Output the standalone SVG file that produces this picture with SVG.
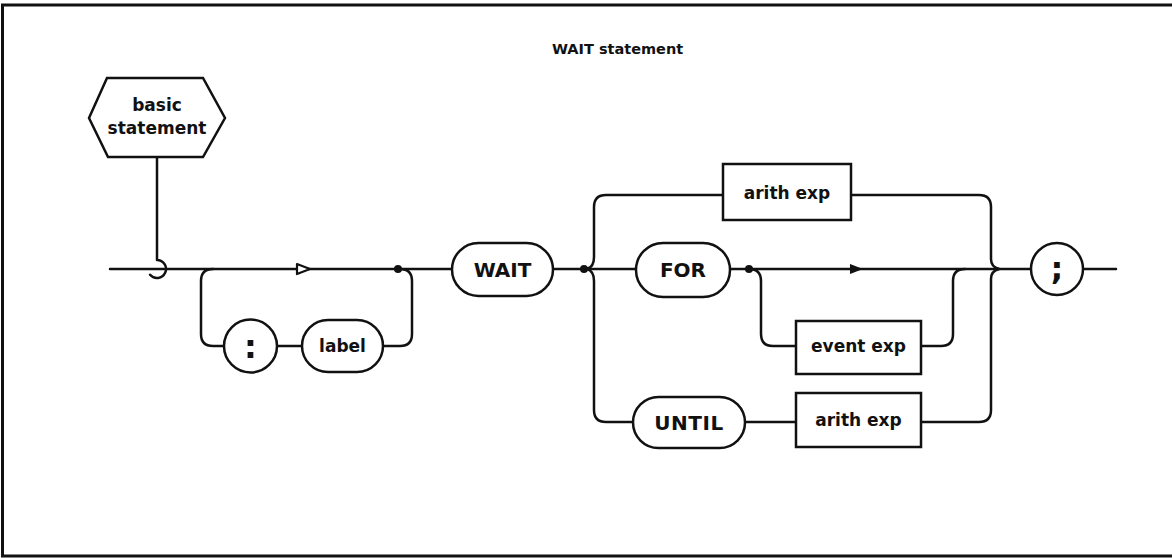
<svg xmlns="http://www.w3.org/2000/svg" width="1172" height="558" viewBox="0 0 1172 558">
<defs>
<style>
.ln{fill:none;stroke:#111;stroke-width:2.5;stroke-linecap:round;stroke-linejoin:round}
.nd{fill:#fff;stroke:#111;stroke-width:2.5}
.lc{font-family:"DejaVu Sans","Liberation Sans",sans-serif;font-weight:bold;font-size:17px;fill:#111;text-anchor:middle}
.uc{font-family:"DejaVu Sans","Liberation Sans",sans-serif;font-weight:bold;font-size:20px;fill:#111;text-anchor:middle}
.pn{font-family:"DejaVu Sans","Liberation Sans",sans-serif;font-weight:bold;font-size:32px;fill:#111;text-anchor:middle}
.dot{fill:#111}
</style>
</defs>
<rect width="1172" height="558" fill="#fff"/>
<path d="M1172,5 H2.5 V556 H1172" fill="none" stroke="#111" stroke-width="3"/>
<text x="552" y="54" font-family="DejaVu Sans, Liberation Sans, sans-serif" font-weight="bold" font-size="14.5" fill="#111">WAIT statement</text>

<g id="connectors">
<path class="ln" d="M110,269 H452"/>
<path class="ln" d="M157,157 V260 A9,9 0 1 1 150.1,274.8"/>
<path d="M297,264 L310,269 L297,274 Z" fill="#fff" stroke="#111" stroke-width="2.2" stroke-linejoin="round"/>
<circle class="dot" cx="398" cy="269" r="4"/>
<path class="ln" d="M213,269 Q201,269 201,281 V334 Q201,346 213,346 H224"/>
<path class="ln" d="M277,346 H302"/>
<path class="ln" d="M383,346 H400 Q412,346 412,334 V281 Q412,269 400,269"/>
<path class="ln" d="M553,269 H636"/>
<circle class="dot" cx="584" cy="269" r="4"/>
<path class="ln" d="M587,269 Q594,267 594,257 V207 Q594,195 606,195 H723"/>
<path class="ln" d="M587,269 Q594,271 594,281 V410 Q594,422 606,422 H633"/>
<path class="ln" d="M730,269 H1031"/>
<circle class="dot" cx="749" cy="269" r="4"/>
<path d="M850,264 L863,269 L850,274 Z" fill="#111"/>
<path class="ln" d="M749,269 Q761,269 761,281 V334 Q761,346 773,346 H796"/>
<path class="ln" d="M921,346 H941 Q953,346 953,334 V281 Q953,269 965,269"/>
<path class="ln" d="M851,195 H979 Q991,195 991,207 V259 Q991,267 999,269"/>
<path class="ln" d="M745,422 H796"/>
<path class="ln" d="M921,422 H979 Q991,422 991,410 V279 Q991,271 999,269"/>
<path class="ln" d="M1083,269 H1116"/>
</g>

<g id="basic-statement">
<polygon class="nd" points="89,118 107,78 203,78 225,118 203,157 108,157"/>
<text class="lc" x="157" y="111">basic</text>
<text class="lc" x="157" y="134">statement</text>
</g>
<g id="colon">
<circle class="nd" cx="250.5" cy="346" r="26.5"/>
<text class="pn" x="250.5" y="358">:</text>
</g>
<g id="label">
<rect class="nd" x="302" y="320" width="81" height="52" rx="26"/>
<text class="lc" x="342.5" y="352">label</text>
</g>
<g id="wait">
<rect class="nd" x="452" y="243" width="101" height="53" rx="26.5"/>
<text class="uc" x="502.5" y="277">WAIT</text>
</g>
<g id="arith-exp-1">
<rect class="nd" x="723" y="164" width="128" height="56"/>
<text class="lc" x="787" y="199">arith exp</text>
</g>
<g id="for">
<rect class="nd" x="636" y="243" width="94" height="54" rx="27"/>
<text class="uc" x="683" y="277">FOR</text>
</g>
<g id="event-exp">
<rect class="nd" x="796" y="321" width="125" height="53"/>
<text class="lc" x="858.5" y="352">event exp</text>
</g>
<g id="until">
<rect class="nd" x="633" y="397" width="112" height="51" rx="25.5"/>
<text class="uc" x="689" y="430" letter-spacing="0.5">UNTIL</text>
</g>
<g id="arith-exp-2">
<rect class="nd" x="796" y="393" width="125" height="54"/>
<text class="lc" x="858.5" y="426">arith exp</text>
</g>
<g id="semicolon">
<circle class="nd" cx="1057" cy="269" r="26"/>
<text class="pn" x="1057" y="280">;</text>
</g>
</svg>
